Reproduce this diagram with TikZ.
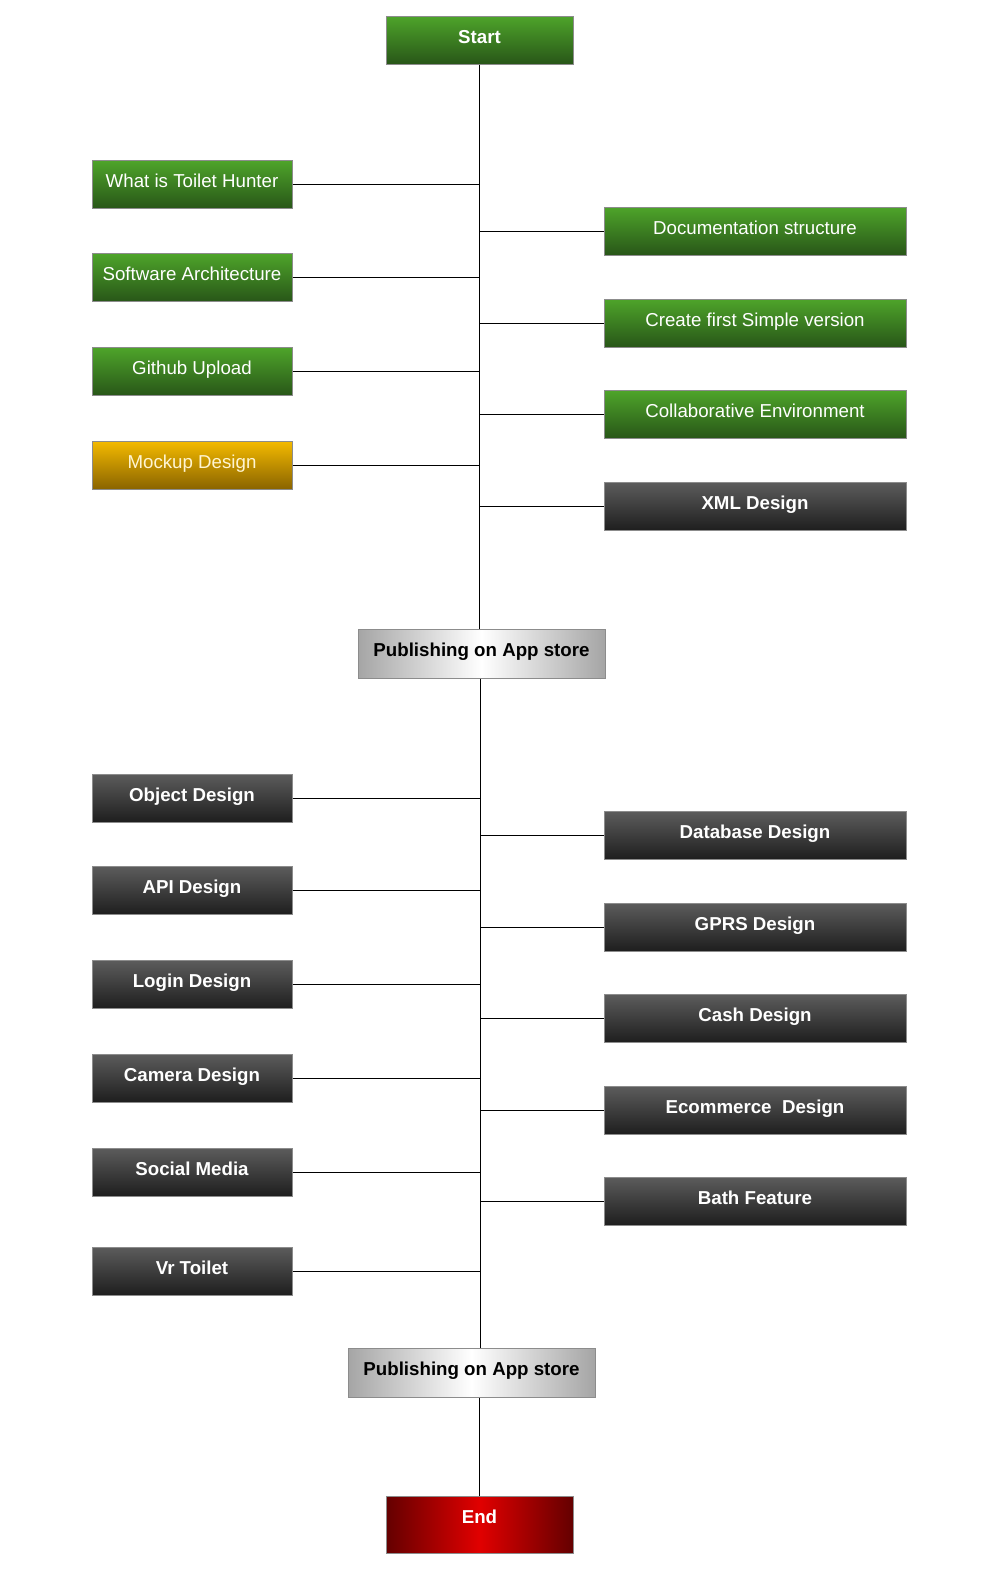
\documentclass[tikz,border=0pt]{standalone}
\usepackage{fontspec}
\setmainfont{Liberation Sans}
\definecolor{gtop}{RGB}{78,164,42}
\definecolor{gbot}{RGB}{40,86,24}
\definecolor{ytop}{RGB}{244,186,0}
\definecolor{ybot}{RGB}{138,100,0}
\definecolor{dtop}{RGB}{92,92,92}
\definecolor{dbot}{RGB}{30,30,30}
\definecolor{pedge}{RGB}{165,165,165}
\definecolor{rin}{RGB}{225,0,0}
\definecolor{rout}{RGB}{100,0,0}
\definecolor{bord}{RGB}{140,140,140}
\definecolor{ytext}{RGB}{255,245,210}
\tikzset{
  box/.style={draw=bord, line width=1pt, rectangle, minimum height=48pt,
    text height=13.4pt, text depth=7pt, inner sep=0pt,
    font=\fontsize{18.7}{22}\selectfont},
  greenbox/.style={box, top color=gtop, bottom color=gbot, text=white},
  goldbox/.style={box, top color=ytop, bottom color=ybot, text=ytext},
  darkbox/.style={box, top color=dtop, bottom color=dbot, text=white,
    font=\fontsize{18.7}{22}\selectfont\bfseries},
  pubbox/.style={box, minimum height=49pt, left color=pedge, right color=pedge,
    middle color=white, text=black,
    font=\fontsize{18.7}{22}\selectfont\bfseries},
  endbox/.style={box, minimum height=57pt, left color=rout, right color=rout,
    middle color=rin, text=white,
    text depth=16pt, font=\fontsize{18.7}{22}\selectfont\bfseries},
  lbox/.style={minimum width=200pt},
  rbox/.style={minimum width=302pt},
  link/.style={draw=black, line width=1pt}
}
\begin{document}
\begin{tikzpicture}[x=1pt,y=-1pt]
\useasboundingbox[fill=white] (0,0) rectangle (992,1580);
\coordinate (sp) at (480,0);
% top
\node[greenbox, minimum width=187pt, font=\fontsize{18.7}{22}\selectfont\bfseries] (start) at (479.5,40) {Start};
\node[pubbox, minimum width=247pt] (pub1) at (481.5,653.5) {Publishing on App store};
\node[pubbox, minimum width=247pt] (pub2) at (471.5,1372.5) {Publishing on App store};
\node[endbox, minimum width=187pt] (end) at (479.5,1524.5) {End};
% left upper
\node[greenbox, lbox] (what) at (192,184.5) {What is Toilet Hunter};
\node[greenbox, lbox] (arch) at (192,277.5) {Software Architecture};
\node[greenbox, lbox] (git) at (192,371.5) {Github Upload};
\node[goldbox, lbox] (mock) at (192,465) {Mockup Design};
% right upper
\node[greenbox, rbox] (doc) at (755,231) {Documentation structure};
\node[greenbox, rbox] (first) at (755,323) {Create first Simple version};
\node[greenbox, rbox] (collab) at (755,414.5) {Collaborative Environment};
\node[darkbox, rbox] (xml) at (755,506.5) {XML Design};
% left lower
\node[darkbox, lbox] (obj) at (192,798) {Object Design};
\node[darkbox, lbox] (api) at (192,890.5) {API Design};
\node[darkbox, lbox] (login) at (192,984.5) {Login Design};
\node[darkbox, lbox] (cam) at (192,1078) {Camera Design};
\node[darkbox, lbox] (social) at (192,1172) {Social Media};
\node[darkbox, lbox] (vr) at (192,1271) {Vr Toilet};
% right lower
\node[darkbox, rbox] (db) at (755,835.5) {Database Design};
\node[darkbox, rbox] (gprs) at (755,927) {GPRS Design};
\node[darkbox, rbox] (cash) at (755,1018.5) {Cash Design};
\node[darkbox, rbox] (ecom) at (755,1110.5) {Ecommerce\ \ Design};
\node[darkbox, rbox] (bath) at (755,1201) {Bath Feature};
% spine
\draw[link] (start.south) -- (start.south |- pub1.north);
\draw[link] (pub1.south -| sp) -- (pub2.north -| sp);
\draw[link] (end.north) -- (end.north |- pub2.south);
% branches
\foreach \n in {what,arch,git,mock,obj,api,login,cam,social,vr}
  \draw[link] (\n.east) -- (\n.east -| sp);
\foreach \n in {doc,first,collab,xml,db,gprs,cash,ecom,bath}
  \draw[link] (\n.west) -- (\n.west -| sp);
\end{tikzpicture}
\end{document}
